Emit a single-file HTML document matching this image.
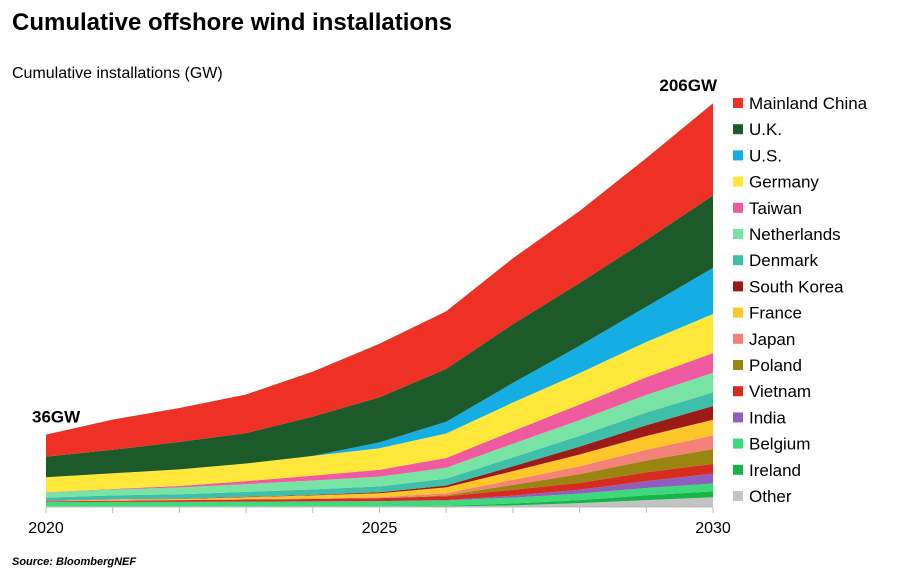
<!DOCTYPE html>
<html><head><meta charset="utf-8"><style>
body{margin:0;background:#fff;font-family:"Liberation Sans",Arial,sans-serif;}
svg{display:block}
</style></head><body>
<svg id="c" width="903" height="584">
<text x="12" y="30" font-size="24" font-weight="bold" fill="#000">Cumulative offshore wind installations</text>
<text x="12" y="78" font-size="16" fill="#000">Cumulative  installations (GW)</text>
<text x="12" y="565" font-size="11" font-weight="bold" font-style="italic" fill="#000">Source: BloombergNEF</text>
<g id="areas"></g><g id="axis"></g><g id="legend"></g>
</svg>
<script>
const years = [2020,2021,2022,2023,2024,2025,2026,2027,2028,2029,2030];
const tickLabels = ["2020","2025","2030"];
const totalLabels = ["36GW","206GW"];
const seriesNames = ["Other","Ireland","Belgium","India","Vietnam","Poland","Japan","France","South Korea","Denmark","Netherlands","Taiwan","Germany","U.S.","U.K.","Mainland China"];
const other = [0.3,0.3,0.3,0.3,0.3,0.3,0.3,0.8,2,3.5,5];
const ireland = [0,0,0,0,0,0,0.3,1,1.5,2.5,3];
const belgium = [2.2,2.3,2.3,2.5,2.6,2.7,2.7,3,3.3,3.7,4];
const india = [0,0,0,0,0,0,0.2,1,2,3.5,5];
const vietnam = [0.4,0.6,0.9,1,1.2,1.5,2,3,3.5,4.5,5];
const poland = [0,0,0,0,0,0,0.5,2.5,4.5,6,7.5];
const japan = [0.1,0.1,0.1,0.2,0.3,0.5,1,2.5,4,5.5,7];
const france = [0,0.5,0.5,1,1.5,2,3,4.5,6,7,8];
const southKorea = [0.1,0.1,0.1,0.2,0.3,0.5,1,2.5,4,5.5,7];
const denmark = [1.7,2,2.3,2.5,2.8,3,3.5,4.5,5.5,6.5,7];
const netherlands = [2.6,3,3.5,4,4.5,5,5.5,7,8,9,10];
const taiwan = [0.1,0.3,0.7,1.5,2.5,3.5,5,6.5,8,9,10];
const germany = [7.7,8,8.5,9,10,11,12.5,14.5,16,18,20];
const us = [0,0,0,0,0.1,3,6,10,14,18,23.5];
const uk = [10.5,12,14,15.5,20,23,27,30,32,34,37];
const china = [11.2,15.4,17.3,19.7,23,27.3,29.4,33.6,36.7,41.8,47];
const series = [other,ireland,belgium,india,vietnam,poland,japan,france,southKorea,denmark,netherlands,taiwan,germany,us,uk,china];
const colors = ["#c3c3c3","#18b34a","#3ed97a","#8e5fbf","#d82b20","#9b8512","#f58278","#ffc629","#9b1b17","#3fbfaa","#77e4a3","#f05a9e","#ffe83a","#14aee5","#1c5a2a","#ee3124"];
const NS="http://www.w3.org/2000/svg";
const x = y => 46 + (y-2020)*(713-46)/10;
const yv = v => 507 - v*1.96;
const areas=document.getElementById('areas');
let base = years.map(()=>0);
series.forEach((s,i)=>{
  const top = base.map((b,j)=>b+s[j]);
  let d = years.map((yr,j)=>(j?'L':'M')+x(yr)+','+yv(top[j])).join('');
  for(let j=years.length-1;j>=0;j--) d+='L'+x(years[j])+','+yv(base[j]);
  const p=document.createElementNS(NS,'path');
  p.setAttribute('d',d+'Z');p.setAttribute('fill',colors[i]);
  
  
  areas.appendChild(p);
  base=top;
});
const totals=base;
const ax=document.getElementById('axis');
const ln=document.createElementNS(NS,'line');
ln.setAttribute('x1',x(2020));ln.setAttribute('x2',x(2030));ln.setAttribute('y1',507);ln.setAttribute('y2',507);ln.setAttribute('stroke','#bbb');


ax.appendChild(ln);
years.forEach(yr=>{const t=document.createElementNS(NS,'line');
 t.setAttribute('x1',x(yr));t.setAttribute('x2',x(yr));t.setAttribute('y1',507);t.setAttribute('y2',513);t.setAttribute('stroke','#bbb');
 
 
 ax.appendChild(t);});
tickLabels.forEach(l=>{const t=document.createElementNS(NS,'text');
 t.setAttribute('x',x(+l));t.setAttribute('y',533);t.setAttribute('text-anchor','middle');t.setAttribute('font-size','16');t.textContent=l;
 
 
 ax.appendChild(t);});
[[0,'start',-14,0],[10,'end',4,1]].forEach(([j,anc,dx,li])=>{const t=document.createElementNS(NS,'text');
 t.setAttribute('x',x(years[j])+dx);t.setAttribute('y',yv(totals[j])-12);t.setAttribute('text-anchor',anc);
 t.setAttribute('font-size','17');t.setAttribute('font-weight','bold');t.textContent=totalLabels[li];
 
 
 ax.appendChild(t);});
const lg=document.getElementById('legend');
for(let k=0;k<seriesNames.length;k++){
 const i=seriesNames.length-1-k; const yy=103+k*26.2;
 const g=document.createElementNS(NS,'g');
 
 
 const r=document.createElementNS(NS,'rect');r.setAttribute('x',733);r.setAttribute('y',yy-5);r.setAttribute('width',10);r.setAttribute('height',10);r.setAttribute('fill',colors[i]);
 const t=document.createElementNS(NS,'text');t.setAttribute('x',749);t.setAttribute('y',yy+6);t.setAttribute('font-size','17');t.textContent=seriesNames[i];
 g.appendChild(r);g.appendChild(t);lg.appendChild(g);
}
</script>
</body></html>
